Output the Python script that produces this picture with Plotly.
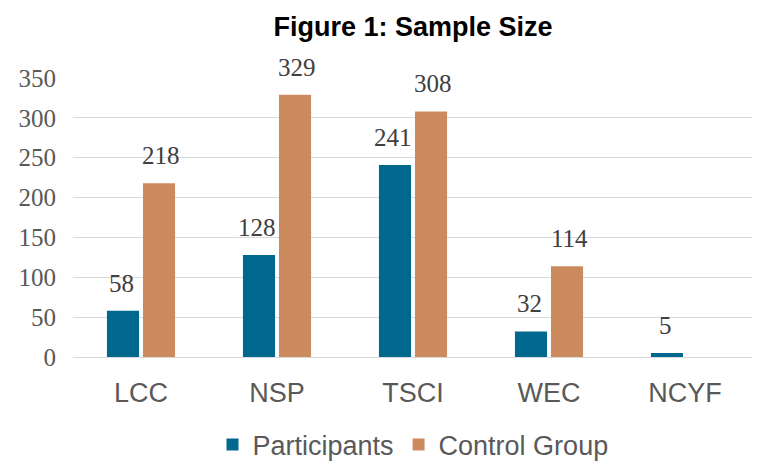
import plotly.graph_objects as go

programs = ["LCC", "NSP", "TSCI", "WEC", "NCYF"]
participants = [58, 128, 241, 32, 5]
control_group = [218, 329, 308, 114, None]
y_ticks = [0, 50, 100, 150, 200, 250, 300, 350]

blue = "#00688F"
tan = "#CC8B5F"
serif = "Liberation Serif"
sans = "Liberation Sans"

fig = go.Figure()
fig.add_trace(go.Bar(x=programs, y=participants, name="Participants",
                     marker={"color": blue, "line": {"width": 0}}))
fig.add_trace(go.Bar(x=programs, y=control_group, name="Control Group",
                     marker={"color": tan, "line": {"width": 0}}))

# value labels sit well above the bars, as in the original
for values, shift in ((participants, -20), (control_group, 20)):
    for cat, v in zip(programs, values):
        if v is None:
            continue
        fig.add_annotation(x=cat, y=v, text=str(v), showarrow=False,
                           xshift=shift, yshift=12, yanchor="bottom",
                           font={"family": serif, "size": 25, "color": "#404040"})

# page body has an 8px margin, so margins are shifted to compensate
fig.update_layout(
    width=760, height=461,
    paper_bgcolor="white", plot_bgcolor="white",
    title={"text": "<b>Figure 1: Sample Size</b>", "x": 0.5, "xanchor": "center",
           "xref": "paper", "y": 0.96, "yanchor": "middle",
           "font": {"family": sans, "size": 27, "color": "black"}},
    margin={"l": 65, "r": 15, "t": 70, "b": 112, "autoexpand": False},
    barmode="group", bargap=0.47, bargroupgap=0.11,
    showlegend=True,
    legend={"orientation": "h", "x": 0.5, "xanchor": "center",
            "yref": "container", "y": 0.052, "yanchor": "middle",
            "font": {"family": sans, "size": 27, "color": "#595959"},
            "itemwidth": 30, "traceorder": "normal"},
    xaxis={"showgrid": False, "showline": True, "linecolor": "#D9D9D9", "linewidth": 1,
           "tickfont": {"family": sans, "size": 27, "color": "#595959"},
           "ticks": "", "ticklabelstandoff": 12},
    yaxis={"range": [0, 350], "tickvals": y_ticks, "showgrid": True, "gridcolor": "#D9D9D9",
           "gridwidth": 1, "zeroline": False, "ticks": "", "ticklabelstandoff": 16,
           "tickfont": {"family": serif, "size": 25, "color": "#595959"}},
)

fig.write_html("out.html")
